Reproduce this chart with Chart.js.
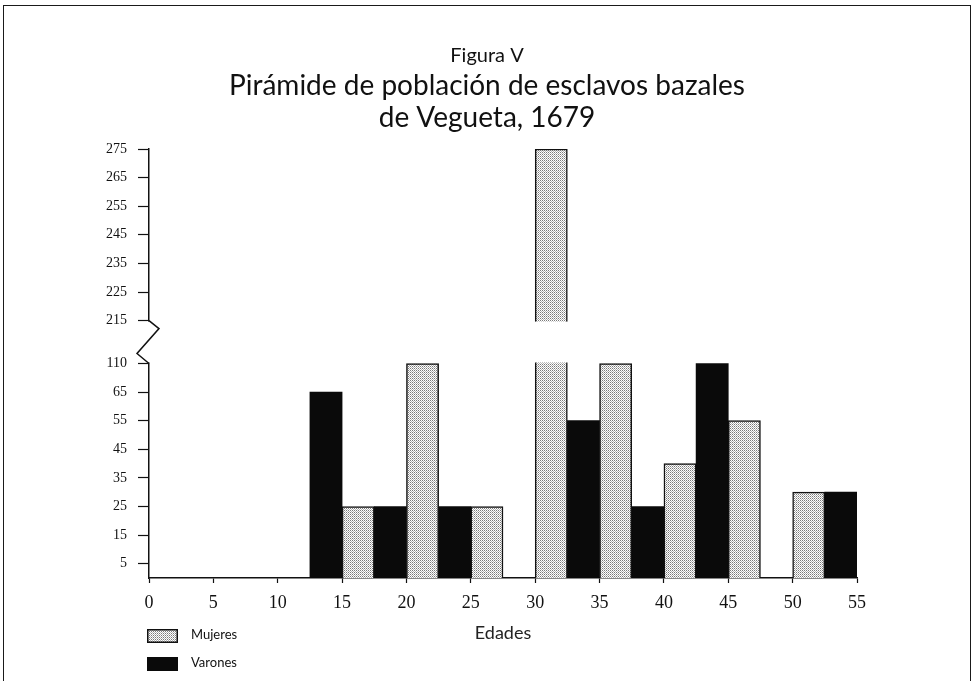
<!DOCTYPE html>
<html>
<head>
<meta charset="utf-8">
<script src="https://cdn.jsdelivr.net/npm/chart.js@4"></script>
<style>
  body { margin: 0; background: #fff; }
  #wrap { position: relative; width: 974px; height: 681px; }
  #frame {
    position: absolute; left: 3px; top: 5px; width: 966px; height: 700px;
    border: 1.5px solid #1a1a1a; pointer-events: none;
  }
  .leg { position: absolute; left: 147px; font: 13px Lato, sans-serif; color: #111; }
  .leg canvas { vertical-align: middle; margin-right: 13px; }
</style>
</head>
<body>
<div id="wrap">
  <canvas id="chart"></canvas>
  <div id="frame"></div>
</div>
<script>
// ages on the x axis; Mujeres sit right of each age mark, Varones left of it
const ages = [15, 20, 25, 30, 35, 40, 45, 50, 55];
const mujeres = [25, 110, 25, 275, 110, 40, 55, 30, null];
const varones = [65, 25, 25, null, 55, 25, 110, null, 30];
const xTicks = [0, 5, 10, 15, 20, 25, 30, 35, 40, 45, 50, 55];
const yTicks = [5, 15, 25, 35, 45, 55, 65, 110, 215, 225, 235, 245, 255, 265, 275];

// broken y axis: 0-65 in steps of 10, 65-110 squeezed into one step, then a break to 215
function toAxis(v) {
  if (v <= 65) return v / 10;
  if (v <= 110) return 6.5 + (v - 65) / 45;
  return 9 + (v - 215) / 10;
}

function stipple() {
  const c = document.createElement("canvas");
  c.width = 2; c.height = 2;
  const g = c.getContext("2d");
  g.fillStyle = "#ffffff"; g.fillRect(0, 0, 2, 2);
  g.fillStyle = "#7a7a7a"; g.fillRect(0, 0, 1, 1);
  g.fillStyle = "#b4b4b4"; g.fillRect(1, 1, 1, 1);
  return g.createPattern(c, "repeat");
}
const dots = stipple();

function points(values, shift) {
  const out = [];
  ages.forEach((a, i) => {
    if (values[i] != null) out.push({ x: a + shift, y: toAxis(values[i]), v: values[i] });
  });
  return out;
}

const breakPlugin = {
  id: "axisBreak",
  afterDraw(chart) {
    const ctx = chart.ctx;
    const y = chart.scales.y;
    const area = chart.chartArea;
    const top = y.getPixelForValue(toAxis(215));
    const bot = y.getPixelForValue(toAxis(110));
    ctx.save();
    ctx.fillStyle = "#fff";
    ctx.fillRect(area.left - 2, top + 1, area.right - area.left + 2, bot - top - 2);
    ctx.strokeStyle = "#111";
    ctx.lineWidth = 1.5;
    ctx.beginPath();
    ctx.moveTo(area.left, top);
    ctx.lineTo(area.left + 10, top + 8);
    ctx.lineTo(area.left - 12, bot - 10);
    ctx.lineTo(area.left, bot);
    ctx.stroke();
    ctx.restore();
  }
};

const chart = new Chart(document.getElementById("chart"), {
  type: "bar",
  data: {
    datasets: [
      {
        label: "Mujeres",
        data: points(mujeres, 1.25),
        backgroundColor: dots,
        borderColor: "#111",
        borderWidth: 1.5,
      },
      {
        label: "Varones",
        data: points(varones, -1.25),
        backgroundColor: "#0a0a0a",
        borderColor: "#0a0a0a",
        borderWidth: 0,
      },
    ],
  },
  options: {
    responsive: true,
    maintainAspectRatio: false,
    animation: false,
    grouped: false,
    barPercentage: 1,
    categoryPercentage: 1,
    layout: { padding: 0 },
    plugins: {
      legend: { display: false },
      tooltip: { enabled: false },
      title: {
        display: true,
        text: "Figura V",
        color: "#111",
        font: { family: "Lato", size: 20, weight: "normal" },
        padding: { top: 44, bottom: 0 },
      },
      subtitle: {
        display: true,
        text: ["Pirámide de población de esclavos bazales", "de Vegueta, 1679"],
        color: "#111",
        font: { family: "Lato", size: 28, weight: "normal", lineHeight: 32 / 28 },
        padding: { top: 2, bottom: 15 },
      },
    },
    scales: {
      x: {
        type: "linear",
        min: 0,
        max: 55,
        offset: false,
        afterFit(scale) { scale.height = 103; },
        afterBuildTicks(scale) { scale.ticks = xTicks.map(v => ({ value: v })); },
        grid: { offset: false, drawOnChartArea: false, tickLength: 5, color: "#111", tickWidth: 1.2 },
        border: { color: "#111", width: 1.5 },
        ticks: {
          color: "#111",
          padding: 9,
          maxRotation: 0,
          font: { family: "Liberation Serif", size: 18 },
        },
        title: {
          display: true,
          text: "Edades",
          color: "#222",
          font: { family: "Lato", size: 18 },
          padding: { top: 0, bottom: 37 },
        },
      },
      y: {
        min: 0,
        max: 15,
        afterFit(scale) { scale.width = 149; },
        afterBuildTicks(scale) { scale.ticks = yTicks.map(v => ({ value: toAxis(v) })); },
        grid: { drawOnChartArea: false, tickLength: 11, color: "#111", tickWidth: 1.2 },
        border: { color: "#111", width: 1.5 },
        ticks: {
          color: "#111",
          padding: 11,
          font: { family: "Liberation Serif", size: 14 },
          callback: (value, index) => yTicks[index],
        },
      },
      // empty right-hand axis, only keeps the plot clear of the right margin
      spacer: {
        position: "right",
        min: 0,
        max: 1,
        afterFit(scale) { scale.width = 117; },
        grid: { display: false },
        border: { display: false },
        ticks: { display: false },
      },
    },
  },
  plugins: [breakPlugin],
});

// legend below the axis, stacked
chart.data.datasets.forEach((ds, i) => {
  const row = document.createElement("div");
  row.className = "leg";
  row.style.top = (628 + i * 28 - 2) + "px";
  const sw = document.createElement("canvas");
  sw.width = 31; sw.height = 14;
  const g = sw.getContext("2d");
  g.fillStyle = ds.backgroundColor;
  g.fillRect(0, 0, 31, 14);
  if (ds.borderWidth) {
    g.strokeStyle = ds.borderColor; g.lineWidth = 1.5;
    g.strokeRect(0.75, 0.75, 29.5, 12.5);
  }
  row.appendChild(sw);
  row.appendChild(document.createTextNode(ds.label));
  document.getElementById("wrap").appendChild(row);
});
</script>
</body>
</html>
